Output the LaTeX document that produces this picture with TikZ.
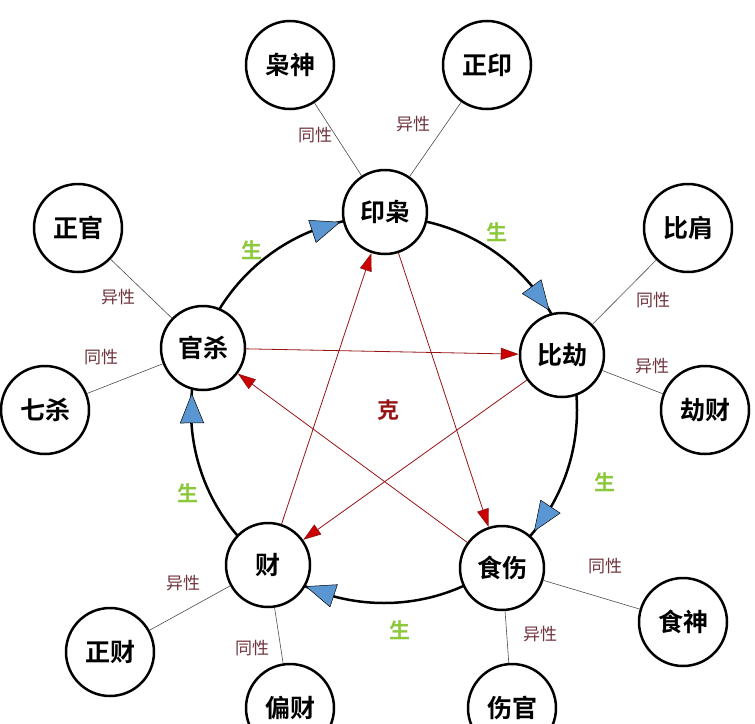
\documentclass[tikz,border=0pt]{standalone}
\usepackage{fontspec}
\newfontfamily\cjk{Noto Sans CJK SC}[BoldFont={Noto Sans CJK SC Bold}]
\usetikzlibrary{arrows.meta,calc}
\definecolor{sheng}{RGB}{140,200,60}
\definecolor{tx}{RGB}{110,50,60}
\definecolor{ke}{RGB}{150,20,20}
\definecolor{blu}{RGB}{90,150,210}
\begin{document}
\begin{tikzpicture}[x=1pt,y=1pt,
  big/.style={circle,draw,line width=2.5pt,fill=white,minimum size=84pt,inner sep=0pt,font=\cjk\bfseries\fontsize{25}{25}\selectfont},
  outer/.style={big,minimum size=88pt},
  lk/.style={draw=black!70,line width=0.6pt},
  lab/.style={text=tx,font=\cjk\fontsize{17}{17}\selectfont},
  sh/.style={text=sheng,font=\cjk\bfseries\fontsize{21}{21}\selectfont},
  kearr/.style={draw=ke,line width=0.8pt,-{Triangle[length=18pt,width=12pt,fill=red!80!black]}},
  barr/.style={draw=black,line width=0.5pt,-{Triangle[length=30pt,width=24pt,fill=blu]}}]
\useasboundingbox (0,0) rectangle (755,-723);
\coordinate (C) at (384,-410);
\draw[line width=2.5pt] (C) circle (193);
% outer nodes
\node[outer] (xs) at (290,-65) {枭神};
\node[outer] (zy) at (487,-65) {正印};
\node[outer] (bj) at (688,-228) {比肩};
\node[outer] (jc) at (705,-410) {劫财};
\node[outer] (ss) at (683,-622) {食神};
\node[outer] (sg) at (512,-708) {伤官};
\node[outer] (pc) at (290,-708) {偏财};
\node[outer] (zc) at (110,-652) {正财};
\node[outer] (qs) at (45,-410) {七杀};
\node[outer] (zg) at (78,-228) {正官};
% main nodes
\node[big] (yx) at (385,-212) {印枭};
\node[big] (bjie) at (562,-355) {比劫};
\node[big] (shs) at (502,-568) {食伤};
\node[big] (cai) at (268,-565) {财};
\node[big] (gs) at (203,-348) {官杀};
% connectors
\path[lk] (yx) -- (xs); \path[lk] (yx) -- (zy);
\path[lk] (bjie) -- (bj); \path[lk] (bjie) -- (jc);
\path[lk] (shs) -- (ss); \path[lk] (shs) -- (sg);
\path[lk] (cai) -- (pc); \path[lk] (cai) -- (zc);
\path[lk] (gs) -- (qs); \path[lk] (gs) -- (zg);
% ke arrows
\draw[kearr] (gs) -- (bjie);
\draw[kearr] (bjie) -- (cai);
\draw[kearr] (cai) -- (yx);
\draw[kearr] (yx) -- (shs);
\draw[kearr] (shs) -- (gs);
% sheng arrows
\draw[barr] ($(C)+(114:193)$) -- ($(C)+(103:193)$);
\draw[barr] ($(C)+(42:193)$) -- ($(C)+(31:193)$);
\draw[barr] ($(C)+(-28:193)$) -- ($(C)+(-39:193)$);
\draw[barr] ($(C)+(-103:193)$) -- ($(C)+(-114:193)$);
\draw[barr] ($(C)+(186:193)$) -- ($(C)+(175:193)$);
% labels
\node[lab] (l1) at (315,-135) {同性};
\node[lab] (l2) at (413,-124) {异性};
\node[lab] (l3) at (653,-300) {同性};
\node[lab] (l4) at (652,-366) {异性};
\node[lab] (l5) at (605,-566) {同性};
\node[lab] (l6) at (540,-634) {异性};
\node[lab] (l7) at (252,-648) {同性};
\node[lab] (l8) at (183,-583) {异性};
\node[lab] (l9) at (101,-357) {同性};
\node[lab] (l10) at (118,-297) {异性};
\node[text=ke,font=\cjk\bfseries\fontsize{22}{22}\selectfont] (k) at (388,-410) {克};
\node[sh] (s1) at (252,-250) {生};
\node[sh] (s2) at (497,-232) {生};
\node[sh] (s3) at (605,-482) {生};
\node[sh] (s4) at (400,-630) {生};
\node[sh] (s5) at (188,-493) {生};
\end{tikzpicture}
\end{document}
